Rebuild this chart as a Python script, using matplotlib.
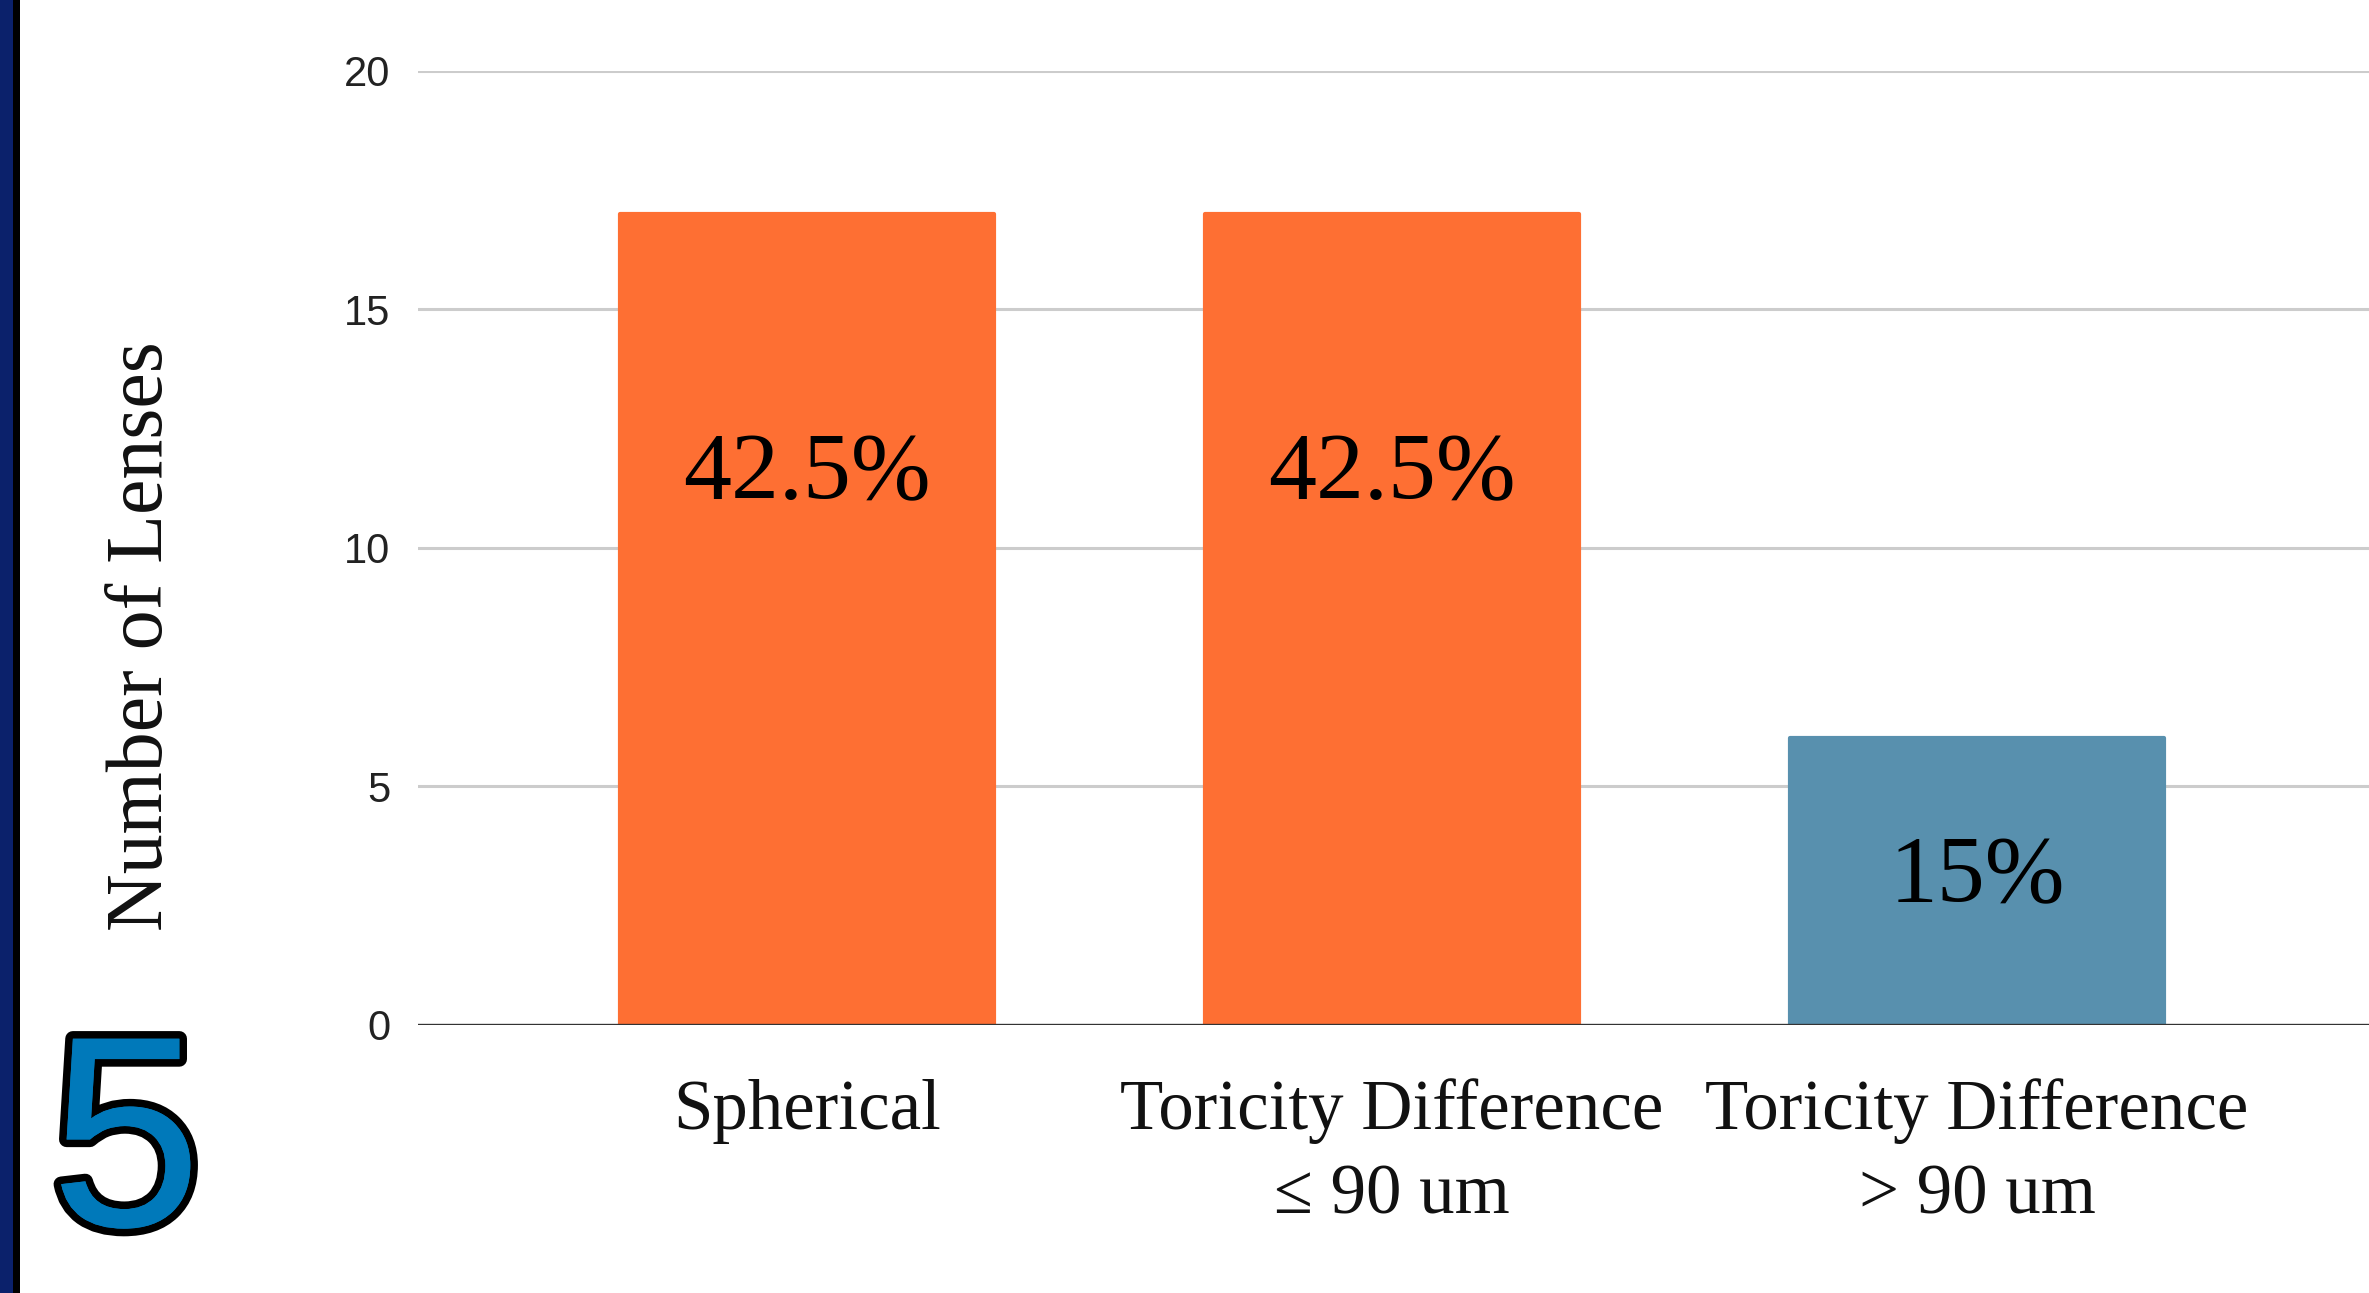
import matplotlib
matplotlib.use("Agg")
import matplotlib.pyplot as plt
import matplotlib.patheffects as pe
from matplotlib.patches import Rectangle

# Lens categories and counts
categories = ["Spherical", "Toricity Difference\n\u2264 90 um", "Toricity Difference\n> 90 um"]
counts = [17, 17, 6]
bar_colors = ["#FE6F33", "#FE6F33", "#5890AE"]
y_ticks = [0, 5, 10, 15, 20]

# Height (in data units) at which each percentage label sits
label_heights = [11.5, 11.5, 3.05]

total = sum(counts)
percent_labels = ["{:g}%".format(round(c / total * 100, 1)) for c in counts]

W, H = 2369, 1293
fig = plt.figure(figsize=(W / 100, H / 100), dpi=100)
fig.patch.set_facecolor("white")

serif = ["Liberation Serif", "DejaVu Serif"]
sans = ["Liberation Sans", "DejaVu Sans"]

# Slide edge: dark blue strip with a black rule
fig.patches.append(Rectangle((0, 0), 13 / W, 1, transform=fig.transFigure,
                             facecolor="#0B216B", edgecolor="none", zorder=0))
fig.patches.append(Rectangle((13 / W, 0), 7 / W, 1, transform=fig.transFigure,
                             facecolor="#000000", edgecolor="none", zorder=0))

ax = fig.add_axes([418 / W, (H - 1024.5) / H, 1 - 418 / W, (1024.5 - 71) / H])
ax.set_facecolor("white")

x = list(range(len(categories)))
ax.bar(x, counts, width=0.64, color=bar_colors, edgecolor=bar_colors,
       linewidth=3, joinstyle="round", zorder=2)

for xi, h, lab in zip(x, label_heights, percent_labels):
    ax.text(xi, h, lab, ha="center", va="center", fontsize=69,
            family=serif, color="black", zorder=4)

ax.set_ylim(0, 20)
ax.set_xlim(-0.665, 2.67)
ax.set_yticks(y_ticks)
ax.set_yticklabels([str(t) for t in y_ticks], family=sans, fontsize=30, color="#222222")
ax.yaxis.grid(True, color="#CCCCCC", linewidth=2.2, zorder=0)
ax.set_axisbelow(True)
ax.axhline(0, color="#333333", linewidth=2.4, zorder=3)

ax.set_xticks(x)
ax.set_xticklabels(categories, family=serif, fontsize=51, color="#111111",
                   linespacing=1.38)
ax.tick_params(axis="both", length=0)
ax.tick_params(axis="y", pad=20)
ax.tick_params(axis="x", pad=39)
for s in ax.spines.values():
    s.set_visible(False)

fig.text(143 / W, (H - 636) / H, "Number of Lenses", rotation=90,
         ha="center", va="center", fontsize=57.5, family=serif, color="#111111")

# Large slide number
fig.text(126 / W, (H - 1226) / H, "5", ha="center", va="baseline",
         fontsize=196, family=sans, color="#0079BA",
         path_effects=[pe.withStroke(linewidth=11, foreground="black"), pe.Normal()])

fig.savefig("out.png", dpi=100, facecolor="white")
